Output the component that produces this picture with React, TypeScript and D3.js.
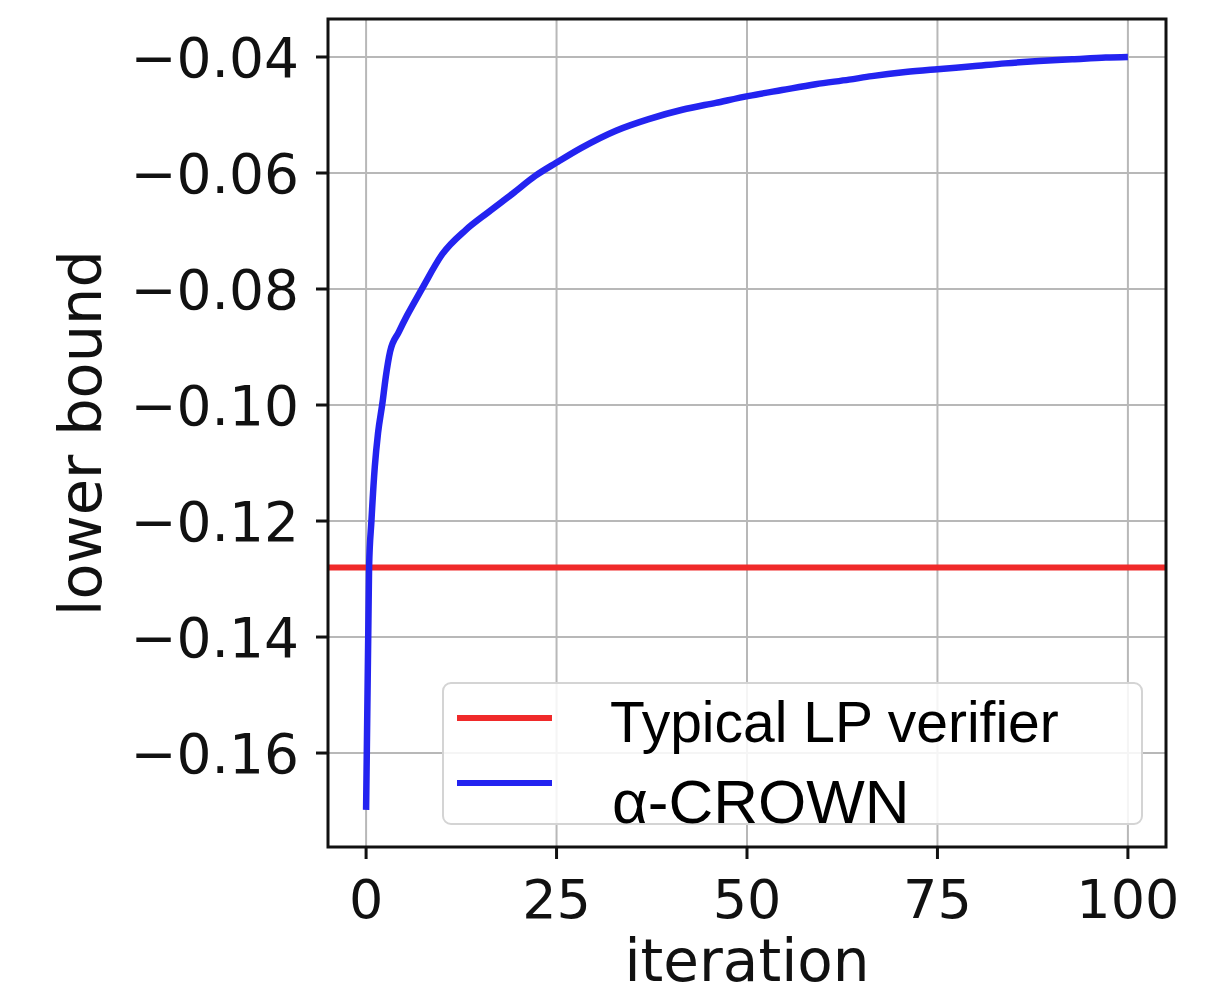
import React from "react";
import * as d3 from "d3";

const iterations = [0, 0.39, 0.7, 1.14, 1.57, 2.14, 2.58, 3.15, 4.3, 5.4, 6.2, 7.4, 10.0, 13.1, 16.1, 19.2, 22.2, 25, 28.2, 32.8, 37.1, 41.5, 45.9, 50.3, 54.6, 59, 63.4, 66.4, 70.8, 75, 79.6, 83.9, 88.3, 92.7, 97.1, 100];
const alphaCrown = [-0.1698, -0.128, -0.12, -0.1107, -0.1048, -0.0997, -0.0952, -0.0908, -0.0874, -0.0845, -0.0826, -0.0798, -0.0740, -0.0698, -0.0667, -0.0636, -0.0605, -0.0582, -0.0557, -0.0527, -0.0507, -0.0491, -0.0479, -0.0467, -0.0457, -0.0447, -0.0439, -0.0433, -0.0426, -0.0421, -0.0416, -0.0411, -0.0407, -0.0404, -0.0401, -0.04];
const lpVerifier = -0.128;
const xTicks = [0, 25, 50, 75, 100];
const yTicks = [-0.16, -0.14, -0.12, -0.1, -0.08, -0.06, -0.04];
const seriesNames = ["Typical LP verifier", "α-CROWN"];
const seriesColors = ["#f02a2a", "#2323f0"];

export default function App() {
  const W = 1230, H = 994;
  const L = 328, R = 1166, T = 19, B = 847;
  const x = d3.scaleLinear().domain([-5, 105]).range([L, R]);
  const y = d3.scaleLinear().domain([-0.1762, -0.03345]).range([B, T]);
  const pts: [number, number][] = iterations.map((it, i) => [it, alphaCrown[i]]);
  const line = d3.line<[number, number]>().x(d => x(d[0])).y(d => y(d[1])).curve(d3.curveMonotoneX);
  const fmtY = (v: number) => (v < 0 ? "\u2212" : "") + Math.abs(v).toFixed(2);
  const tickFont = "DejaVu Sans, sans-serif";
  const legX = 443, legY = 683, legW = 699, legH = 141;
  const handleRows = [718, 783];
  const textRows = [742, 823];
  return (
    <svg width={W} height={H} style={{ position: "absolute", left: 0, top: 0, background: "#fff" }}>
      <rect x={0} y={0} width={W} height={H} fill="#fff" />
      {xTicks.map(t => (
        <line key={"gx" + t} x1={x(t)} x2={x(t)} y1={T} y2={B} stroke="#b8b8b8" strokeWidth={2} />
      ))}
      {yTicks.map(t => (
        <line key={"gy" + t} x1={L} x2={R} y1={y(t)} y2={y(t)} stroke="#b8b8b8" strokeWidth={2} />
      ))}
      <line x1={L} x2={R} y1={y(lpVerifier)} y2={y(lpVerifier)} stroke={seriesColors[0]} strokeWidth={6} />
      <path d={line(pts) || ""} fill="none" stroke={seriesColors[1]} strokeWidth={6.5} strokeLinejoin="round" />
      <rect x={L} y={T} width={R - L} height={B - T} fill="none" stroke="#111" strokeWidth={3} />
      {xTicks.map(t => (
        <g key={"tx" + t}>
          <line x1={x(t)} x2={x(t)} y1={B} y2={B + 12} stroke="#111" strokeWidth={3} />
          <text x={x(t)} y={918} textAnchor="middle" fontFamily={tickFont} fontSize={54} fill="#111">{t}</text>
        </g>
      ))}
      {yTicks.map(t => (
        <g key={"ty" + t}>
          <line x1={L - 12} x2={L} y1={y(t)} y2={y(t)} stroke="#111" strokeWidth={3} />
          <text x={299} y={y(t)} dy="0.36em" textAnchor="end" fontFamily={tickFont} fontSize={55} fill="#111">{fmtY(t)}</text>
        </g>
      ))}
      <text x={(L + R) / 2} y={981} textAnchor="middle" fontFamily={tickFont} fontSize={58} fill="#111">iteration</text>
      <text transform={`translate(101, 433) rotate(-90)`} textAnchor="middle" fontFamily={tickFont} fontSize={59} fill="#111">lower bound</text>
      <rect x={legX} y={legY} width={legW} height={legH} rx={8} fill="#fff" fillOpacity={0.85} stroke="#d4d4d4" strokeWidth={2} />
      {seriesNames.map((n, i) => (
        <g key={n}>
          <line x1={457} x2={552} y1={handleRows[i]} y2={handleRows[i]} stroke={seriesColors[i]} strokeWidth={6} />
          <text x={i === 0 ? 610 : 612} y={textRows[i]} fontFamily="Liberation Sans, Arial, sans-serif" fontSize={i === 0 ? 57 : 62} fill="#000">{n}</text>
        </g>
      ))}
    </svg>
  );
}
